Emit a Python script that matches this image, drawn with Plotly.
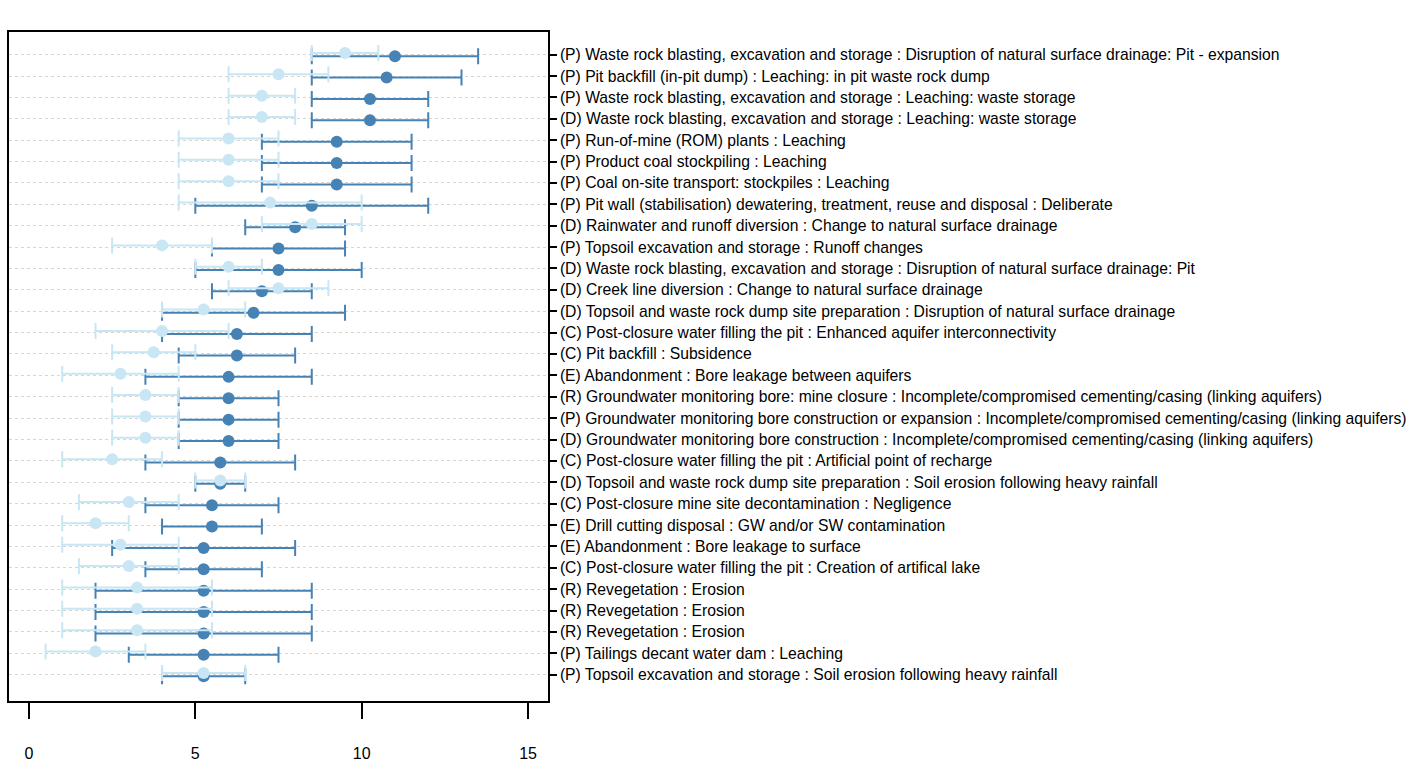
import plotly.graph_objects as go

labels = [
    "(P) Waste rock blasting, excavation and storage : Disruption of natural surface drainage: Pit - expansion",
    "(P) Pit backfill (in-pit dump) : Leaching: in pit waste rock dump",
    "(P) Waste rock blasting, excavation and storage : Leaching: waste storage",
    "(D) Waste rock blasting, excavation and storage : Leaching: waste storage",
    "(P) Run-of-mine (ROM) plants : Leaching",
    "(P) Product coal stockpiling : Leaching",
    "(P) Coal on-site transport: stockpiles : Leaching",
    "(P) Pit wall (stabilisation) dewatering, treatment, reuse and disposal : Deliberate",
    "(D) Rainwater and runoff diversion : Change to natural surface drainage",
    "(P) Topsoil excavation and storage : Runoff changes",
    "(D) Waste rock blasting, excavation and storage : Disruption of natural surface drainage: Pit",
    "(D) Creek line diversion : Change to natural surface drainage",
    "(D) Topsoil and waste rock dump site preparation : Disruption of natural surface drainage",
    "(C) Post-closure water filling the pit : Enhanced aquifer interconnectivity",
    "(C) Pit backfill : Subsidence",
    "(E) Abandonment : Bore leakage between aquifers",
    "(R) Groundwater monitoring bore: mine closure : Incomplete/compromised cementing/casing (linking aquifers)",
    "(P) Groundwater monitoring bore construction or expansion : Incomplete/compromised cementing/casing (linking aquifers)",
    "(D) Groundwater monitoring bore construction : Incomplete/compromised cementing/casing (linking aquifers)",
    "(C) Post-closure water filling the pit : Artificial point of recharge",
    "(D) Topsoil and waste rock dump site preparation : Soil erosion following heavy rainfall",
    "(C) Post-closure mine site decontamination : Negligence",
    "(E) Drill cutting disposal : GW and/or SW contamination",
    "(E) Abandonment : Bore leakage to surface",
    "(C) Post-closure water filling the pit : Creation of artifical lake",
    "(R) Revegetation : Erosion",
    "(R) Revegetation : Erosion",
    "(R) Revegetation : Erosion",
    "(P) Tailings decant water dam : Leaching",
    "(P) Topsoil excavation and storage : Soil erosion following heavy rainfall",
]

dark_mid = [11.0, 10.75, 10.25, 10.25, 9.25, 9.25, 9.25, 8.5, 8.0, 7.5,
            7.5, 7.0, 6.75, 6.25, 6.25, 6.0, 6.0, 6.0, 6.0, 5.75,
            5.75, 5.5, 5.5, 5.25, 5.25, 5.25, 5.25, 5.25, 5.25, 5.25]
dark_lo = [8.5, 8.5, 8.5, 8.5, 7.0, 7.0, 7.0, 5.0, 6.5, 5.5,
           5.0, 5.5, 4.0, 4.0, 4.5, 3.5, 4.5, 4.5, 4.5, 3.5,
           5.0, 3.5, 4.0, 2.5, 3.5, 2.0, 2.0, 2.0, 3.0, 4.0]
dark_hi = [13.5, 13.0, 12.0, 12.0, 11.5, 11.5, 11.5, 12.0, 9.5, 9.5,
           10.0, 8.5, 9.5, 8.5, 8.0, 8.5, 7.5, 7.5, 7.5, 8.0,
           6.5, 7.5, 7.0, 8.0, 7.0, 8.5, 8.5, 8.5, 7.5, 6.5]

light_mid = [9.5, 7.5, 7.0, 7.0, 6.0, 6.0, 6.0, 7.25, 8.5, 4.0,
             6.0, 7.5, 5.25, 4.0, 3.75, 2.75, 3.5, 3.5, 3.5, 2.5,
             5.75, 3.0, 2.0, 2.75, 3.0, 3.25, 3.25, 3.25, 2.0, 5.25]
light_lo = [8.5, 6.0, 6.0, 6.0, 4.5, 4.5, 4.5, 4.5, 7.0, 2.5,
            5.0, 6.0, 4.0, 2.0, 2.5, 1.0, 2.5, 2.5, 2.5, 1.0,
            5.0, 1.5, 1.0, 1.0, 1.5, 1.0, 1.0, 1.0, 0.5, 4.0]
light_hi = [10.5, 9.0, 8.0, 8.0, 7.5, 7.5, 7.5, 10.0, 10.0, 5.5,
            7.0, 9.0, 6.5, 6.0, 5.0, 4.5, 4.5, 4.5, 4.5, 4.0,
            6.5, 4.5, 3.0, 4.5, 4.5, 5.5, 5.5, 5.5, 3.5, 6.5]

x_ticks = [0, 5, 10, 15]

DARK = "#4682B4"
LIGHT = "#C8E6F3"

n = len(labels)
rows = [n - i for i in range(n)]  # top row = n, bottom row = 1
dark_y = [r - 0.07 for r in rows]
light_y = [r + 0.08 for r in rows]

fig = go.Figure()
fig.add_trace(go.Scatter(
    x=dark_mid, y=dark_y, mode="markers",
    marker=dict(color=DARK, size=12, line=dict(width=0)),
    error_x=dict(type="data", symmetric=False,
                 array=[h - m for h, m in zip(dark_hi, dark_mid)],
                 arrayminus=[m - l for m, l in zip(dark_mid, dark_lo)],
                 color=DARK, thickness=2, width=8),
    showlegend=False, hoverinfo="x",
))
fig.add_trace(go.Scatter(
    x=light_mid, y=light_y, mode="markers",
    marker=dict(color=LIGHT, size=12, line=dict(width=0)),
    error_x=dict(type="data", symmetric=False,
                 array=[h - m for h, m in zip(light_hi, light_mid)],
                 arrayminus=[m - l for m, l in zip(light_mid, light_lo)],
                 color=LIGHT, thickness=2, width=8),
    showlegend=False, hoverinfo="x",
))

fig.update_layout(
    width=1414, height=774,
    margin=dict(l=7, r=866, t=32, b=73, pad=0),
    paper_bgcolor="white", plot_bgcolor="white",
    font=dict(family="Liberation Sans, Arial, sans-serif", color="black"),
)
fig.update_xaxes(
    range=[-0.6, 15.6], tickvals=x_ticks, ticktext=[str(v) for v in x_ticks],
    showgrid=False, zeroline=False,
    showline=True, mirror=True, linecolor="black", linewidth=1.5,
    ticks="outside", ticklen=16, tickwidth=1.5, tickcolor="black",
    tickfont=dict(size=16, color="black"), ticklabelstandoff=21,
)
fig.update_yaxes(
    range=[-0.23, 31.06], tickvals=rows, ticktext=labels, side="right",
    showgrid=True, gridcolor="#d6d6d6", gridwidth=1, griddash="dot",
    zeroline=False,
    showline=True, mirror=True, linecolor="black", linewidth=1.5,
    ticks="outside", ticklen=7, tickwidth=1.5, tickcolor="black",
    tickfont=dict(size=15.7, color="black"), ticklabelstandoff=0,
)

fig.write_html("out.html")
